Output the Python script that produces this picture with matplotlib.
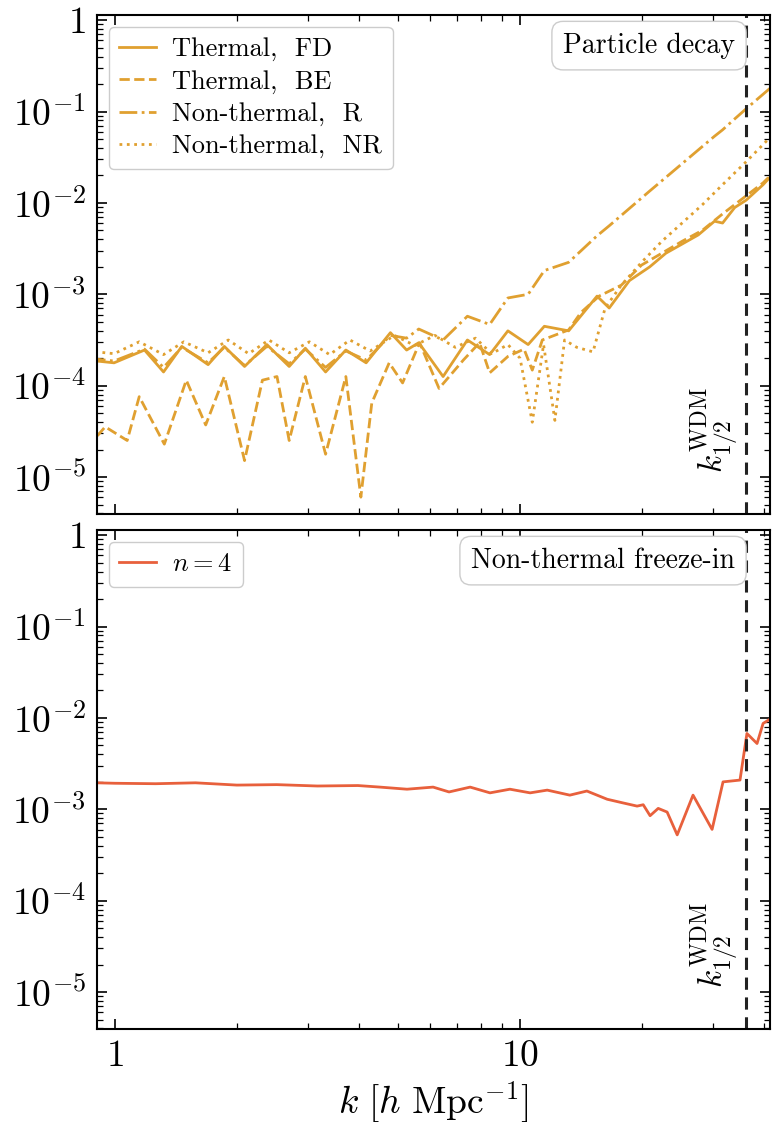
import numpy as np
import matplotlib
matplotlib.use("Agg")
import matplotlib.pyplot as plt
from matplotlib.ticker import LogLocator, FuncFormatter, NullFormatter

plt.rcParams['mathtext.fontset'] = 'cm'
plt.rcParams['font.family'] = 'serif'
plt.rcParams['font.serif'] = ['cmr10']
plt.rcParams['axes.formatter.use_mathtext'] = True

# --- data, values are log10 of the ratio ---
k_fd = [0.857, 0.995, 1.183, 1.318, 1.462, 1.698, 1.862, 2.089, 2.371, 2.692,
        2.951, 3.311, 3.715, 4.169, 4.786, 5.248, 5.623, 6.457, 7.413, 8.414,
        9.333, 10.47, 11.48, 13.18, 15.49, 16.60, 18.62, 20.89, 22.91, 25.12,
        27.54, 30.20, 31.62, 33.88, 36.14, 39.81, 44.67]
fd_log = [-3.72, -3.75, -3.61, -3.85, -3.57, -3.77, -3.57, -3.79, -3.55, -3.79,
          -3.59, -3.85, -3.61, -3.75, -3.42, -3.61, -3.53, -3.90, -3.50, -3.66,
          -3.40, -3.55, -3.35, -3.40, -3.02, -3.15, -2.85, -2.70, -2.55, -2.45,
          -2.35, -2.20, -2.22, -2.05, -1.97, -1.80, -1.56]
r_log = [-3.70, -3.73, -3.60, -3.80, -3.58, -3.75, -3.58, -3.78, -3.57, -3.76,
         -3.60, -3.80, -3.62, -3.72, -3.45, -3.48, -3.38, -3.50, -3.24, -3.33,
         -3.04, -3.00, -2.74, -2.65, -2.36, -2.25, -2.06, -1.87, -1.72, -1.57,
         -1.42, -1.27, -1.20, -1.08, -0.97, -0.81, -0.62]

k_be = [0.857, 0.946, 1.072, 1.148, 1.324, 1.500, 1.675, 1.862, 2.089, 2.312,
        2.512, 2.692, 2.951, 3.311, 3.715, 4.046, 4.305, 4.753, 5.129, 5.649,
        6.310, 7.244, 7.943, 8.414, 9.333, 10.23, 10.72, 11.35, 13.18, 14.13,
        15.67, 17.78, 19.95, 22.39, 25.12, 28.18, 31.62, 35.48, 39.81, 44.67]
be_log = [-4.67, -4.45, -4.60, -4.12, -4.64, -3.94, -4.43, -3.90, -4.82, -3.94,
          -3.90, -4.60, -3.90, -4.75, -3.90, -5.22, -4.19, -3.75, -3.97, -3.53,
          -4.03, -3.72, -3.53, -3.86, -3.68, -3.60, -3.83, -3.50, -3.39, -3.20,
          -3.02, -2.90, -2.68, -2.55, -2.42, -2.30, -2.12, -1.95, -1.78, -1.56]

k_nr = [0.857, 0.995, 1.148, 1.318, 1.479, 1.698, 1.905, 2.138, 2.399, 2.692,
        3.020, 3.388, 3.802, 4.266, 4.898, 5.495, 6.166, 6.918, 7.762, 8.511,
        9.333, 10.00, 10.72, 11.43, 12.19, 12.88, 13.80, 15.14, 16.22, 17.78,
        19.95, 22.39, 25.12, 28.18, 31.62, 36.14, 41.69, 44.67]
nr_log = [-3.62, -3.65, -3.52, -3.66, -3.52, -3.64, -3.50, -3.65, -3.50, -3.64,
          -3.52, -3.66, -3.50, -3.62, -3.45, -3.56, -3.45, -3.58, -3.48, -3.65,
          -3.55, -3.70, -4.40, -3.55, -4.38, -3.50, -3.58, -3.63, -3.15, -2.90,
          -2.65, -2.42, -2.22, -2.02, -1.80, -1.55, -1.27, -1.15]

k_fi = [0.90, 1.00, 1.26, 1.58, 2.00, 2.51, 3.16, 3.98, 4.51, 5.26, 6.10, 6.68,
        7.53, 8.43, 9.44, 10.59, 11.67, 13.27, 14.62, 16.41, 17.95, 19.45, 20.14,
        20.94, 21.93, 23.07, 24.43, 26.73, 29.79, 31.70, 34.91, 36.31, 38.46,
        39.81, 41.88]
fi_log = [-2.71, -2.715, -2.72, -2.71, -2.735, -2.73, -2.745, -2.74, -2.757, -2.78,
          -2.757, -2.81, -2.757, -2.82, -2.78, -2.82, -2.79, -2.845, -2.80, -2.89,
          -2.93, -2.965, -2.95, -3.07, -2.99, -3.03, -3.28, -2.845, -3.22, -2.70,
          -2.68, -2.17, -2.28, -2.06, -2.00]

k_half = 36.1
gold = '#E0A030'
red = '#E8603C'


def fmt(v, pos):
    e = int(round(np.log10(v)))
    if e == 0:
        return r'$1$'
    if e == 1:
        return r'$10$'
    return r'$10^{%d}$' % e


def style(ax):
    ax.set_xscale('log')
    ax.set_yscale('log')
    ax.set_xlim(0.903, 41.4)
    ax.set_ylim(3.94e-6, 1.14)
    ax.xaxis.set_major_locator(LogLocator(base=10, numticks=10))
    ax.xaxis.set_minor_locator(LogLocator(base=10, subs=np.arange(2, 10), numticks=20))
    ax.yaxis.set_major_locator(LogLocator(base=10, numticks=20))
    ax.yaxis.set_minor_locator(LogLocator(base=10, subs=np.arange(2, 10), numticks=20))
    ax.xaxis.set_major_formatter(FuncFormatter(fmt))
    ax.yaxis.set_major_formatter(FuncFormatter(fmt))
    ax.xaxis.set_minor_formatter(NullFormatter())
    ax.yaxis.set_minor_formatter(NullFormatter())
    ax.tick_params(which='both', direction='in', top=True, right=True, labelsize=27)
    ax.tick_params(which='major', length=7, width=1.2, pad=8)
    ax.tick_params(which='minor', length=4, width=0.9)
    for s in ax.spines.values():
        s.set_linewidth(1.5)
    ax.axvline(k_half, color='#222222', ls=(0, (4, 2.5)), lw=2.2)
    ax.text(k_half * 0.975, 0.082, r'$k_{1/2}^{\mathrm{WDM}}$', transform=ax.get_xaxis_transform(),
            rotation=90, ha='right', va='bottom', fontsize=24)


fig = plt.figure(figsize=(7.72, 11.22), dpi=100)
ax1 = fig.add_axes([97 / 772, 1 - 514 / 1122, 673 / 772, 499 / 1122])
ax2 = fig.add_axes([97 / 772, 1 - 1029 / 1122, 673 / 772, 499 / 1122])

lw = 2.0
ax1.plot(k_fd, 10 ** np.array(fd_log), color=gold, lw=lw, ls='-', label='Thermal,  FD')
ax1.plot(k_be, 10 ** np.array(be_log), color=gold, lw=lw, ls='--', label='Thermal,  BE')
ax1.plot(k_fd, 10 ** np.array(r_log), color=gold, lw=lw, ls='-.', label='Non-thermal,  R')
ax1.plot(k_nr, 10 ** np.array(nr_log), color=gold, lw=lw, ls=':', label='Non-thermal,  NR')
style(ax1)
ax1.tick_params(labelbottom=False)
ax1.legend(loc='upper left', fontsize=19, fancybox=True, edgecolor='#cccccc', framealpha=1,
           handlelength=1.4, labelspacing=0.32, borderpad=0.4, handletextpad=0.6,
           borderaxespad=0.45)
ax1.text(0.948, 0.965, 'Particle decay', transform=ax1.transAxes, ha='right', va='top',
         fontsize=20, bbox=dict(boxstyle='round,pad=0.4', fc='white', ec='#cccccc'))

ax2.plot(k_fi, 10 ** np.array(fi_log), color=red, lw=lw, label=r'$n=4$')
style(ax2)
ax2.legend(loc='upper left', fontsize=19, fancybox=True, edgecolor='#cccccc', framealpha=1,
           handlelength=1.4, borderpad=0.4, handletextpad=0.6, borderaxespad=0.45)
ax2.text(0.948, 0.965, 'Non-thermal freeze-in', transform=ax2.transAxes, ha='right', va='top',
         fontsize=20, bbox=dict(boxstyle='round,pad=0.4', fc='white', ec='#cccccc'))
ax2.set_xlabel(r'$k\ [h\ \mathrm{Mpc}^{-1}]$', fontsize=27, labelpad=4)

fig.savefig('out.png', dpi=100)
